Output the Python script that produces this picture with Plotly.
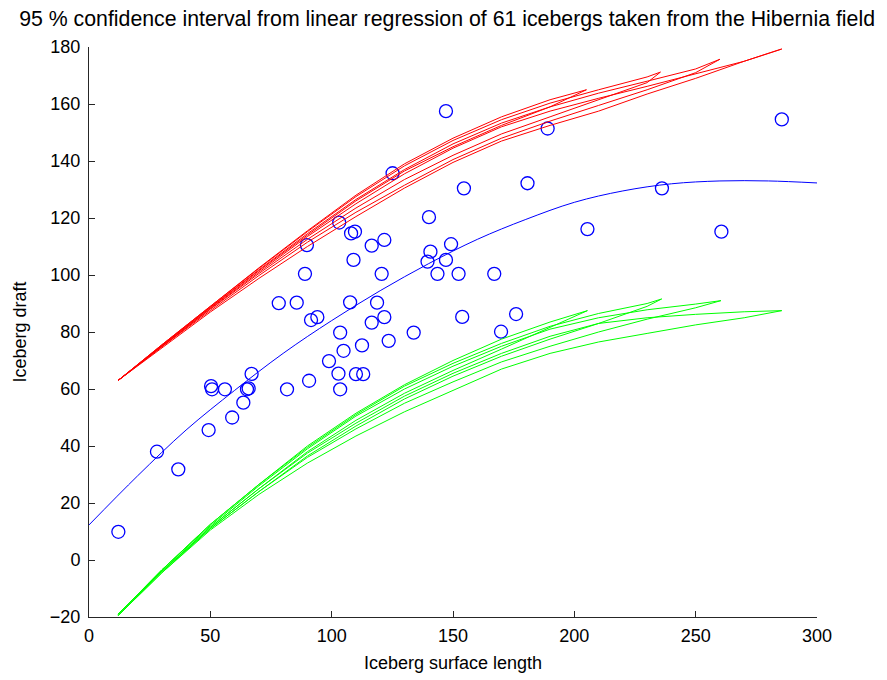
import plotly.graph_objects as go

# Iceberg observations (surface length, draft)
ice_len = [12.1, 28, 36.8, 49.3, 50.3, 50.7, 56, 59, 63.6, 65.1, 65.8, 67, 78.2, 81.6, 85.6,
           89, 89.8, 90.7, 91.5, 94.1, 98.9, 103.1, 102.8, 103.5, 103.5, 104.9, 107.6, 108,
           109.6, 109, 110, 112.5, 113, 116.5, 116.5, 118.7, 120.6, 121.7, 121.7, 123.5, 125.1,
           133.8, 140.1, 139.5, 140.7, 143.6, 147.1, 147.1, 149.2, 152.3, 154.5, 153.8, 167,
           169.8, 176, 180.7, 189, 205.4, 236.1, 260.6, 285.5]
ice_draft = [9.9, 38, 31.8, 45.6, 61, 59.9, 59.9, 50, 55.2, 59.9, 60.2, 65.3, 90.1, 59.9, 90.3,
             100.4, 110.5, 62.9, 84.2, 85.2, 69.8, 118.4, 65.4, 59.9, 79.8, 73.4, 90.4, 114.6,
             115.2, 105.3, 65.2, 75.3, 65.2, 110.3, 83.3, 90.3, 100.4, 112.3, 85.2, 76.9, 135.7,
             79.8, 120.3, 104.7, 108.2, 100.4, 157.5, 105.3, 110.8, 100.4, 130.4, 85.3, 100.4,
             80.1, 86.3, 132.2, 151.4, 116.1, 130.4, 115.2, 154.6]

# Fitted regression curve
fit_x = [0, 20, 40, 60, 80, 100, 120, 140, 160, 180, 200, 220, 240, 260, 280, 300]
fit_y = [12.3, 29.5, 45.6, 59.5, 72.5, 84, 94.5, 104, 112.5, 119.5, 125.5, 129.5, 132, 133, 133, 132.3]

# Upper confidence bounds (red), one per resampled fit
red_x = [
    [12, 30, 50, 70, 90, 110, 130, 150, 170, 190, 205],
    [12, 30, 50, 70, 90, 110, 130, 150, 170, 190, 205],
    [12, 30, 50, 70, 90, 110, 130, 150, 170, 190, 210, 230, 235.5],
    [12, 30, 50, 70, 90, 110, 130, 150, 170, 190, 210, 230, 235.5],
    [12, 30, 50, 70, 90, 110, 130, 150, 170, 190, 210, 230, 250, 260],
    [12, 30, 50, 70, 90, 110, 130, 150, 170, 190, 210, 230, 250, 260],
    [12, 30, 50, 70, 90, 110, 130, 150, 170, 190, 210, 230, 250, 270, 285.5],
    [12, 30, 50, 70, 90, 110, 130, 150, 170, 190, 210, 230, 250, 270, 285.5],
]
red_y = [
    [63, 75.5, 89, 102.5, 115.5, 128, 139, 148, 155.5, 161.5, 165],
    [63, 75.3, 88.5, 101.5, 114, 126, 136.5, 145, 152.5, 159, 165],
    [63, 75.5, 89, 102.3, 115.2, 127.5, 138.3, 147.2, 154.5, 160.3, 165, 169.5, 171.2],
    [63, 75, 88, 100.5, 112.5, 123.5, 133.5, 142, 149.5, 155.5, 161.5, 167.5, 171.2],
    [63, 75.3, 88.7, 101.8, 114.5, 126.5, 137, 146, 153.3, 159, 163.8, 168, 172.3, 175.7],
    [63, 74.8, 87.5, 99.8, 111.5, 122, 131.5, 140.5, 148, 154, 159.5, 165, 171, 175.7],
    [63, 75, 88.2, 101, 113.5, 125, 135.5, 144.5, 152, 157.5, 162, 166.2, 170.5, 175, 179.3],
    [63, 74.5, 87, 98.8, 110, 120.5, 130.5, 139.5, 147, 152.5, 157.5, 163.5, 169, 175, 179.3],
]

# Lower confidence bounds (green)
green_x = [
    [12, 30, 50, 70, 90, 110, 130, 150, 170, 190, 205.4],
    [12, 30, 50, 70, 90, 110, 130, 150, 170, 190, 205.4],
    [12, 30, 50, 70, 90, 110, 130, 150, 170, 190, 210, 230, 236],
    [12, 30, 50, 70, 90, 110, 130, 150, 170, 190, 210, 230, 236],
    [12, 30, 50, 70, 90, 110, 130, 150, 170, 190, 210, 230, 250, 260.4],
    [12, 30, 50, 70, 90, 110, 130, 150, 170, 190, 210, 230, 250, 260.4],
    [12, 30, 50, 70, 90, 110, 130, 150, 170, 190, 210, 230, 250, 270, 285.5],
    [12, 30, 50, 70, 90, 110, 130, 150, 170, 190, 210, 230, 250, 270, 285.5],
]
green_y = [
    [-19, -3.5, 12.5, 26.5, 40, 51.5, 61.5, 70, 77.5, 83.5, 87.5],
    [-19, -4, 11.5, 25, 38, 49, 58.5, 66.5, 74, 81.5, 87.5],
    [-19, -3.5, 12.5, 26.5, 39.5, 51, 61, 69, 76, 82, 86.5, 90, 91.6],
    [-19.5, -4, 11, 24, 36.5, 47, 56.5, 64.5, 71.5, 77.5, 83, 89, 91.6],
    [-19, -3.5, 12, 26, 39, 50.5, 60, 68, 75, 81, 85, 87.8, 89.8, 91],
    [-19.5, -4.5, 11, 24, 36, 46, 55, 62.5, 69.5, 75, 80, 84.5, 88.5, 91],
    [-19, -4, 11.5, 25, 37.5, 48, 57.5, 65.5, 72.5, 78.5, 83, 85, 86.2, 87.1, 87.5],
    [-19.5, -4.5, 10.5, 23, 34, 43.5, 52, 59.5, 67, 72.5, 76.5, 79.5, 82.5, 85, 87.5],
]

title_text = "95 % confidence interval from linear regression of 61 icebergs taken from the Hibernia field"

fig = go.Figure()

fig.add_trace(go.Scatter(x=ice_len, y=ice_draft, mode="markers",
                         marker=dict(symbol="circle-open", size=13, color="#0000ff",
                                     line=dict(width=1.3, color="#0000ff")),
                         showlegend=False))
fig.add_trace(go.Scatter(x=fit_x, y=fit_y, mode="lines", line=dict(color="#0000ff", width=1, shape="spline"),
                         showlegend=False))
for xs, ys in zip(red_x, red_y):
    fig.add_trace(go.Scatter(x=xs, y=ys, mode="lines", line=dict(color="#ff0000", width=1),
                             showlegend=False))
for xs, ys in zip(green_x, green_y):
    fig.add_trace(go.Scatter(x=xs, y=ys, mode="lines", line=dict(color="#00ff00", width=1),
                             showlegend=False))

font_family = "Liberation Sans, Arial, sans-serif"
fig.update_layout(
    width=887, height=680,
    paper_bgcolor="white", plot_bgcolor="white",
    margin=dict(l=81, r=78, t=39, b=71),
    title=dict(text=title_text, x=0.495, xref="container", xanchor="center",
               y=0.984, yref="container", yanchor="middle",
               font=dict(family=font_family, size=21.3, color="black")),
    font=dict(family=font_family, size=18, color="black"),
    xaxis=dict(range=[0, 300], tickvals=[0, 50, 100, 150, 200, 250, 300],
               ticks="inside", ticklen=6, tickcolor="#262626", showline=True, linecolor="#262626",
               linewidth=1, showgrid=False, zeroline=False, mirror=False, automargin=False,
               ticklabelstandoff=2,
               title=dict(text="Iceberg surface length", standoff=11, font=dict(size=18))),
    yaxis=dict(range=[-20, 180], tickvals=[-20, 0, 20, 40, 60, 80, 100, 120, 140, 160, 180],
               ticks="inside", ticklen=6, tickcolor="#262626", showline=True, linecolor="#262626",
               linewidth=1, showgrid=False, zeroline=False, mirror=False, automargin=False,
               ticklabelstandoff=4,
               title=dict(text="Iceberg draft", standoff=18, font=dict(size=18))),
)

fig.write_html("out.html")
